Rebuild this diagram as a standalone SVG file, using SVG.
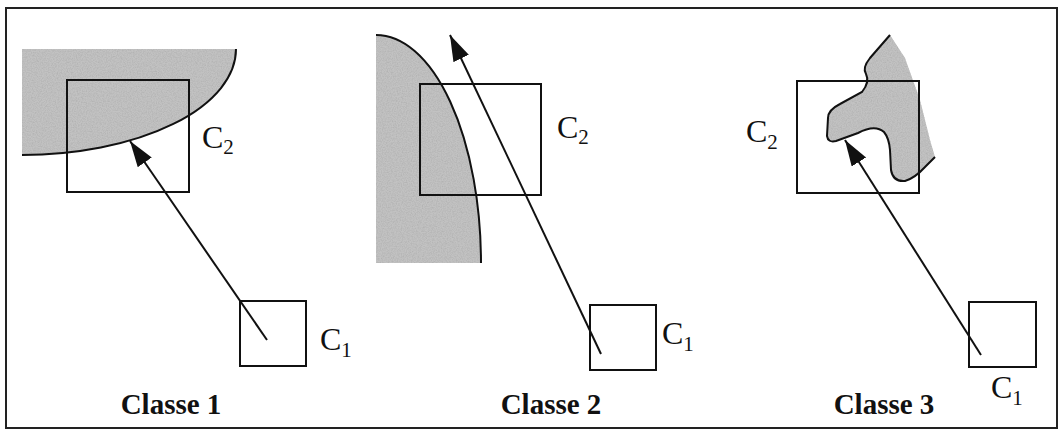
<svg xmlns="http://www.w3.org/2000/svg" width="1062" height="432" viewBox="0 0 1062 432">
<defs>
<style>
.frame{fill:none;stroke:#222;stroke-width:2}
.box{fill:none;stroke:#111;stroke-width:2}
.edge{fill:none;stroke:#111;stroke-width:2}
.zone{fill:#c2c2c2;stroke:none;filter:url(#speckle)}
.arrow{fill:none;stroke:#111;stroke-width:2;marker-end:url(#head)}
.lbl{font-size:32px;fill:#111}
.sub{font-size:21px}
.title{font-size:29px;font-weight:bold;fill:#111;text-anchor:middle}
</style>
<filter id="speckle" x="0" y="0" width="1" height="1">
<feTurbulence type="fractalNoise" baseFrequency="0.8" numOctaves="2" seed="3" result="n"/>
<feColorMatrix in="n" type="matrix" values="0 0 0 0 0.45  0 0 0 0 0.45  0 0 0 0 0.45  0 0 0 2 -0.7" result="dots"/>
<feComposite in="dots" in2="SourceGraphic" operator="in" result="d2"/>
<feMerge><feMergeNode in="SourceGraphic"/><feMergeNode in="d2"/></feMerge>
</filter>
<marker id="head" markerUnits="userSpaceOnUse" markerWidth="28" markerHeight="18" refX="26" refY="8.5" orient="auto">
<path d="M0,0 L26,8.5 L0,17 Z" fill="#111"/>
</marker>
</defs>
<rect class="frame" x="6" y="8" width="1051" height="420"/>

<g id="region1">
<path class="zone" d="M22,49 L236,49 A214,106 0 0 1 22,155 Z"/>
<path class="edge" d="M236,49 A214,106 0 0 1 22,155"/>
</g>
<g id="region2">
<path class="zone" d="M376,35 A105,228 0 0 1 481,263 L376,263 Z"/>
<path class="edge" d="M376,35 A105,228 0 0 1 481,263"/>
</g>
<g id="region3">
<path class="zone" d="M890,35 L870,58 Q862,68 866,74 Q870,82 862,92 L840,104 Q828,110 828,118 L827,136 Q828,143 836,141 L858,133 Q875,124 884,132 Q889,138 890,150 L891,170 Q893,182 905,181 Q915,178 925,167 L935,157 L930,140 L920,100 L905,58 Z"/>
<path class="edge" d="M890,35 L870,58 Q862,68 866,74 Q870,82 862,92 L840,104 Q828,110 828,118 L827,136 Q828,143 836,141 L858,133 Q875,124 884,132 Q889,138 890,150 L891,170 Q893,182 905,181 Q915,178 925,167 L935,157"/>
</g>

<g font-family="'Liberation Serif', 'Times New Roman', serif">
<g id="c2-1"><rect class="box" x="67" y="80" width="122" height="112"/><text class="lbl" x="202" y="148">C<tspan class="sub" dy="6">2</tspan></text></g>
<g id="c1-1"><rect class="box" x="240" y="301" width="66" height="65"/><text class="lbl" x="320" y="350">C<tspan class="sub" dy="7">1</tspan></text></g>
<g id="c2-2"><rect class="box" x="420" y="84" width="121" height="111"/><text class="lbl" x="557" y="138">C<tspan class="sub" dy="6">2</tspan></text></g>
<g id="c1-2"><rect class="box" x="590" y="305" width="66" height="65"/><text class="lbl" x="662" y="344">C<tspan class="sub" dy="7">1</tspan></text></g>
<g id="c2-3"><rect class="box" x="797" y="81" width="122" height="112"/><text class="lbl" x="746" y="142">C<tspan class="sub" dy="7">2</tspan></text></g>
<g id="c1-3"><rect class="box" x="969" y="302" width="67" height="65"/><text class="lbl" x="991" y="398">C<tspan class="sub" dy="7">1</tspan></text></g>

<g id="titles">
<text class="title" x="171" y="414">Classe 1</text>
<text class="title" x="551" y="414">Classe 2</text>
<text class="title" x="884" y="414">Classe 3</text>
</g>
</g>

<g id="connectors">
<line class="arrow" x1="267" y1="340" x2="130" y2="141"/>
<line class="arrow" x1="601" y1="354" x2="450" y2="35"/>
<line class="arrow" x1="981" y1="355" x2="845" y2="140"/>
</g>
</svg>
